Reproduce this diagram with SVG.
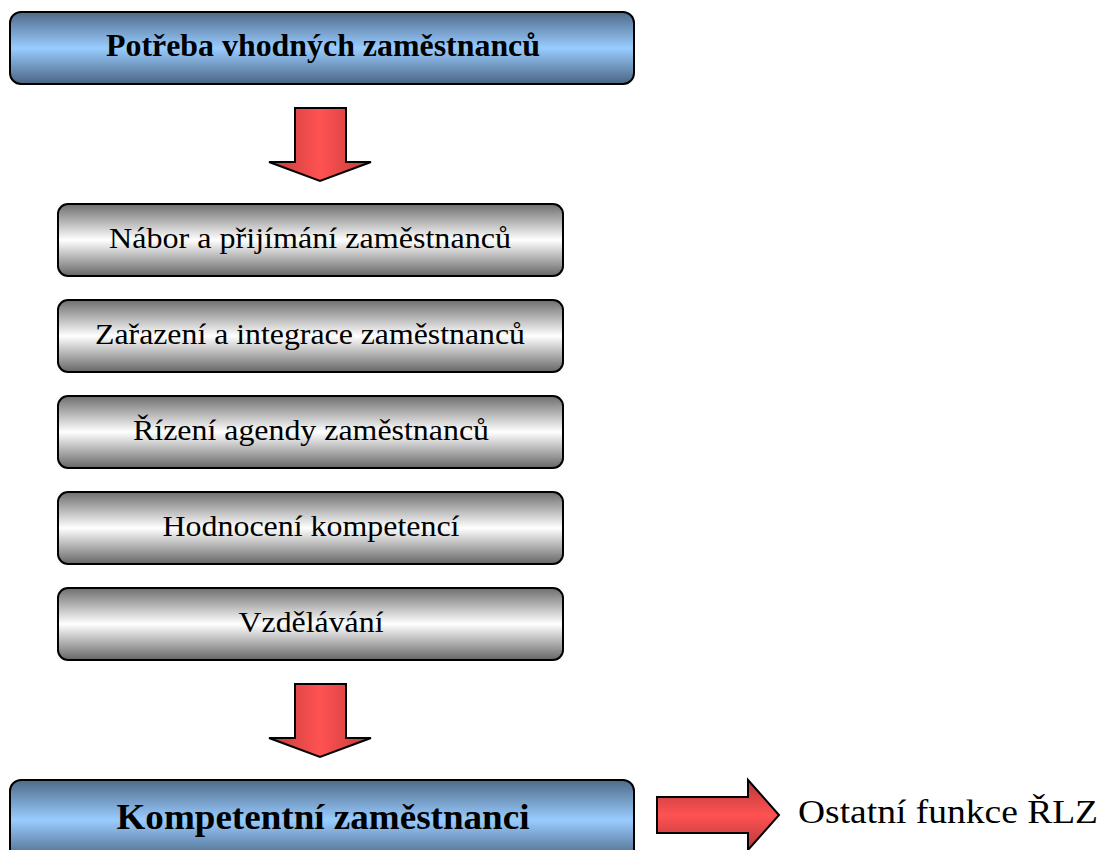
<svg xmlns="http://www.w3.org/2000/svg" width="1101" height="850" viewBox="0 0 1101 850">
  <defs>
    <linearGradient id="blueFill" x1="0" y1="0" x2="0" y2="1">
      <stop offset="0" stop-color="#4f6a88"/>
      <stop offset="0.5" stop-color="#99ccff"/>
      <stop offset="1" stop-color="#4a6482"/>
    </linearGradient>
    <linearGradient id="grayFill" x1="0" y1="0" x2="0" y2="1">
      <stop offset="0" stop-color="#6e6e6e"/>
      <stop offset="0.5" stop-color="#ffffff"/>
      <stop offset="1" stop-color="#666666"/>
    </linearGradient>
    <linearGradient id="redH" x1="0" y1="0" x2="1" y2="0">
      <stop offset="0" stop-color="#c23b3b"/>
      <stop offset="0.5" stop-color="#ff5252"/>
      <stop offset="1" stop-color="#c23b3b"/>
    </linearGradient>
    <linearGradient id="redV" x1="0" y1="0" x2="0" y2="1">
      <stop offset="0" stop-color="#b83838"/>
      <stop offset="0.5" stop-color="#ff5252"/>
      <stop offset="1" stop-color="#b83838"/>
    </linearGradient>
  </defs>
  <style>
    .blue { fill: url(#blueFill); stroke: #000; stroke-width: 2; }
    .gray { fill: url(#grayFill); stroke: #000; stroke-width: 2; }
    .arrow { stroke: #000; stroke-width: 2; stroke-linejoin: miter; }
    .head { font-family: "Liberation Serif", "Times New Roman", serif; font-weight: bold; fill: #000; text-anchor: middle; }
    .step { font-family: "Liberation Serif", "Times New Roman", serif; font-size: 29.5px; fill: #000; text-anchor: middle; }
    .note { font-family: "Liberation Serif", "Times New Roman", serif; font-size: 34px; fill: #000; }
  </style>
  <rect width="1101" height="850" fill="#ffffff"/>

  <g id="need">
    <rect class="blue" x="10" y="12" width="624" height="72" rx="11"/>
    <text class="head" x="323" y="56" font-size="31" textLength="434" lengthAdjust="spacingAndGlyphs">Potřeba vhodných zaměstnanců</text>
  </g>

  <g id="connectors">
    <path class="arrow" fill="url(#redH)" d="M295,108 H346 V162 H371 L320,181 L269,162 H295 Z"/>
    <path class="arrow" fill="url(#redH)" d="M295,684 H346 V738 H371 L320,757 L269,738 H295 Z"/>
    <path class="arrow" fill="url(#redV)" d="M657,797 H748 V780 L779,815 L748,850 V833 H657 Z"/>
  </g>

  <g id="recruitment">
    <rect class="gray" x="58" y="204" width="505" height="72" rx="10"/>
    <text class="step" x="310" y="248" textLength="402" lengthAdjust="spacingAndGlyphs">Nábor a přijímání zaměstnanců</text>
  </g>
  <g id="integration">
    <rect class="gray" x="58" y="300" width="505" height="72" rx="10"/>
    <text class="step" x="310" y="344" textLength="430" lengthAdjust="spacingAndGlyphs">Zařazení a integrace zaměstnanců</text>
  </g>
  <g id="agenda">
    <rect class="gray" x="58" y="396" width="505" height="72" rx="10"/>
    <text class="step" x="311" y="440" textLength="356" lengthAdjust="spacingAndGlyphs">Řízení agendy zaměstnanců</text>
  </g>
  <g id="assessment">
    <rect class="gray" x="58" y="492" width="505" height="72" rx="10"/>
    <text class="step" x="311" y="536" textLength="297" lengthAdjust="spacingAndGlyphs">Hodnocení kompetencí</text>
  </g>
  <g id="education">
    <rect class="gray" x="58" y="588" width="505" height="72" rx="10"/>
    <text class="step" x="311" y="632" textLength="145" lengthAdjust="spacingAndGlyphs">Vzdělávání</text>
  </g>

  <g id="competent">
    <rect class="blue" x="10" y="780" width="624" height="80" rx="11"/>
    <text class="head" x="323" y="829" font-size="35" textLength="413" lengthAdjust="spacingAndGlyphs">Kompetentní zaměstnanci</text>
  </g>

  <g id="other">
    <text class="note" x="798" y="823" textLength="300" lengthAdjust="spacingAndGlyphs">Ostatní funkce ŘLZ</text>
  </g>
</svg>
